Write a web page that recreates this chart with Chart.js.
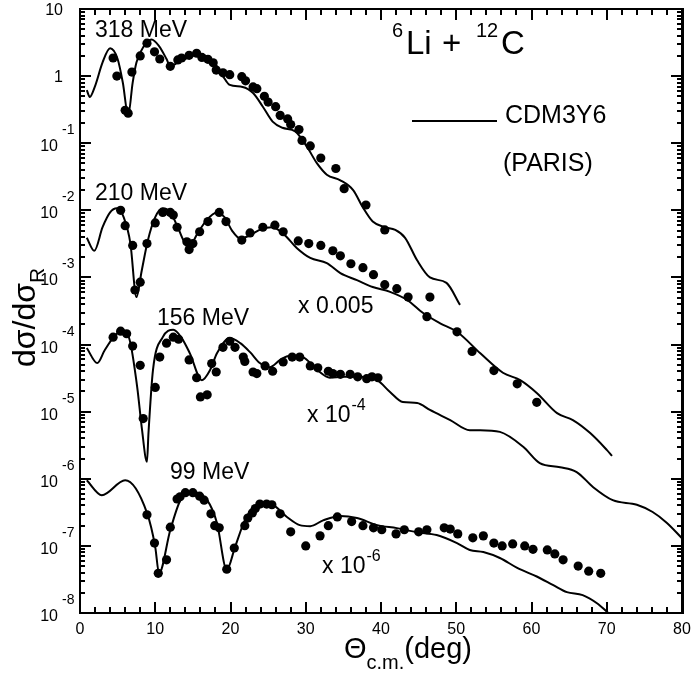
<!DOCTYPE html>
<html>
<head>
<meta charset="utf-8">
<script src="https://cdn.jsdelivr.net/npm/chart.js@4.4.0/dist/chart.umd.min.js"></script>
<style>
  html, body { margin: 0; padding: 0; background: #fff; }
</style>
</head>
<body>
<canvas id="xsec" width="694" height="679"></canvas>
<script>
// 6Li + 12C elastic scattering, ratio to Rutherford vs c.m. angle (deg)
// folding-model curves (CDM3Y6 / Paris) and measured points, one set per energy

// 318 MeV
const calcAng318 = [0.9, 1.3, 2.0, 3.0, 4.0, 5.0, 5.7, 6.4, 7.0, 7.5, 8.5, 9.5, 10.5, 11.5, 12.0, 13, 14, 15, 16, 17, 18, 19, 19.9, 21.6, 23.0, 24.3, 25.6, 26.9, 28.6, 30.2, 31.5, 32.8, 34.6, 36.3, 37.6, 38.9, 40.5, 41.9, 43.2, 44.8, 46.5, 48.7, 50.5];
const calc318 = [0.62, 0.49, 0.71, 1.6, 2.6, 1.8, 0.79, 0.26, 0.8, 1.6, 2.8, 3.5, 2.8, 1.8, 1.4, 1.6, 1.8, 2.0, 2.1, 1.9, 1.5, 1.0, 0.74, 0.69, 0.56, 0.35, 0.21, 0.17, 0.15, 0.087, 0.050, 0.034, 0.028, 0.020, 0.011, 0.0068, 0.0056, 0.0051, 0.0039, 0.0018, 0.0010, 0.00083, 0.00039];
const dataAng318 = [4.4, 4.9, 6.0, 6.4, 6.9, 8.0, 8.9, 9.9, 10.6, 12.0, 13.0, 13.5, 14.5, 15.5, 16.2, 17.0, 17.7, 18.1, 19.0, 19.9, 21.5, 22.0, 23.0, 23.5, 24.5, 25.0, 26.0, 26.6, 27.6, 28.0, 29.1, 29.5, 30.6, 32.0, 34.0, 35.1, 38.0, 40.5, 46.5];
const data318 = [1.86, 1.0, 0.31, 0.28, 1.15, 2.0, 3.1, 2.3, 1.8, 1.4, 1.74, 1.86, 2.04, 2.19, 1.9, 1.78, 1.58, 1.23, 1.12, 1.05, 0.98, 0.85, 0.69, 0.65, 0.50, 0.41, 0.35, 0.26, 0.23, 0.19, 0.16, 0.11, 0.091, 0.060, 0.042, 0.021, 0.012, 0.0051, 0.00051];

// 210 MeV (x 0.005)
const calcAng210 = [0.9, 1.9, 3.0, 4.0, 4.9, 5.8, 6.7, 7.5, 8.2, 9.0, 10.0, 11.0, 12.0, 13.0, 13.8, 14.6, 15.6, 16.8, 18.2, 19.2, 20.2, 21.3, 22.5, 24.0, 25.5, 27.0, 28.8, 30.6, 32.8, 34.6, 36.8, 38.9, 41.2, 43.5, 45.6, 47.8, 50.1, 53.2, 56.2, 58.5, 60.7, 63.4, 65.5, 67.8, 70.0, 70.7];
const calc210 = [0.0039, 0.0025, 0.0056, 0.0093, 0.0107, 0.0079, 0.0032, 0.00051, 0.00126, 0.0035, 0.0079, 0.0107, 0.0093, 0.0056, 0.0035, 0.0030, 0.0045, 0.0071, 0.0093, 0.0079, 0.0050, 0.0038, 0.0042, 0.0052, 0.0056, 0.0045, 0.00275, 0.00195, 0.00164, 0.00116, 0.00091, 0.00072, 0.00061, 0.00046, 0.000295, 0.000209, 0.000155, 7.4e-5, 3.8e-5, 2.95e-5, 1.9e-5, 9.5e-6, 7.5e-6, 4.8e-6, 2.7e-6, 2.2e-6];
const dataAng210 = [5.4, 6.0, 7.0, 7.3, 8.0, 8.9, 10.0, 11.0, 12.0, 12.4, 12.9, 14.2, 14.5, 15.0, 15.9, 17.0, 18.5, 19.4, 21.5, 22.6, 24.3, 25.9, 27.0, 29.0, 30.4, 32.0, 33.6, 34.6, 36.0, 37.6, 39.0, 40.5, 42.1, 43.6, 46.1, 50.1, 52.1, 55.0, 58.1, 60.7];
const data210 = [0.0100, 0.0059, 0.0030, 0.00065, 0.00085, 0.0032, 0.0065, 0.0093, 0.0093, 0.0085, 0.0056, 0.0034, 0.0026, 0.0032, 0.0048, 0.0068, 0.0093, 0.0068, 0.0036, 0.0046, 0.0056, 0.0060, 0.0048, 0.0035, 0.0032, 0.0030, 0.0025, 0.0021, 0.0016, 0.0014, 0.0011, 0.00078, 0.00068, 0.00051, 0.00026, 0.000155, 7.9e-5, 4.1e-5, 2.6e-5, 1.38e-5];

// 156 MeV (x 1e-4)
const calcAng156 = [0.9, 2.3, 3.3, 5.3, 6.4, 7.6, 8.2, 8.9, 9.1, 9.7, 11.0, 12.4, 13.5, 14.6, 16.2, 17.3, 18.2, 19.9, 21.3, 22.6, 23.9, 25.2, 26.6, 27.9, 29.6, 31.5, 33.2, 35.0, 37.2, 39.5, 41.2, 42.9, 44.8, 46.5, 49.2, 51.8, 53.2, 55.8, 58.9, 61.1, 63.8, 66.0, 68.2, 70.8, 74.0, 76.1, 78.0, 80.0];
const calc156 = [8.9e-5, 5.3e-5, 8.3e-5, 1.53e-4, 1.35e-4, 2.33e-5, 5.9e-6, 1.8e-6, 4.8e-6, 4.2e-5, 1.29e-4, 1.66e-4, 1.26e-4, 7.4e-5, 2.95e-5, 4.2e-5, 7.4e-5, 1.25e-4, 1.05e-4, 7.7e-5, 5.3e-5, 4.6e-5, 5.9e-5, 6.8e-5, 6.5e-5, 4.2e-5, 3.2e-5, 3.3e-5, 3.3e-5, 2.95e-5, 1.96e-5, 1.39e-5, 1.35e-5, 1.06e-5, 7.5e-6, 5.3e-6, 5.3e-6, 5.0e-6, 3.0e-6, 1.71e-6, 1.49e-6, 1.26e-6, 7.5e-7, 4.8e-7, 4.1e-7, 3.2e-7, 2.2e-7, 1.3e-7];
const dataAng156 = [4.4, 5.4, 6.2, 7.0, 8.0, 8.4, 10.0, 10.6, 11.5, 12.4, 13.1, 14.5, 15.5, 16.0, 16.9, 17.5, 18.1, 19.0, 19.9, 20.6, 21.7, 21.9, 23.0, 23.5, 24.6, 25.6, 27.0, 28.2, 29.2, 30.6, 31.6, 33.0, 33.6, 34.6, 35.9, 36.9, 38.1, 38.8, 39.6];
const data156 = [1.29e-4, 1.58e-4, 1.45e-4, 9.5e-5, 4.9e-5, 7.9e-6, 2.3e-5, 6.5e-5, 1.05e-4, 1.29e-4, 1.2e-4, 5.9e-5, 3.2e-5, 1.66e-5, 1.78e-5, 5.2e-5, 3.9e-5, 9.1e-5, 1.12e-4, 9.1e-5, 6.5e-5, 5.6e-5, 3.9e-5, 3.7e-5, 4.8e-5, 4.0e-5, 5.5e-5, 6.5e-5, 6.5e-5, 4.8e-5, 4.5e-5, 4.0e-5, 3.7e-5, 3.6e-5, 3.6e-5, 3.3e-5, 3.1e-5, 3.3e-5, 3.2e-5];

// 99 MeV (x 1e-6)
const calcAng99 = [0.9, 2.9, 6.0, 8.9, 10.0, 10.5, 12.0, 13.5, 15.0, 16.9, 18.2, 19.5, 20.6, 21.9, 23.0, 24.3, 25.6, 27.5, 29.2, 30.6, 32.3, 34.6, 36.8, 39.5, 42.1, 44.8, 47.4, 50.1, 51.8, 53.6, 55.8, 58.1, 60.7, 62.9, 64.7, 66.8, 68.7, 70.2];
const calc99 = [9.5e-7, 5.7e-7, 9.5e-7, 3.1e-7, 9.6e-8, 3.9e-8, 1.72e-7, 5.2e-7, 6.3e-7, 4.8e-7, 2.2e-7, 4.4e-8, 9.6e-8, 2.4e-7, 3.7e-7, 4.3e-7, 4.1e-7, 2.7e-7, 2.04e-7, 1.97e-7, 2.4e-7, 2.8e-7, 2.6e-7, 2.04e-7, 1.84e-7, 1.6e-7, 1.45e-7, 1.1e-7, 8.7e-8, 8.1e-8, 6.6e-8, 4.7e-8, 3.5e-8, 2.6e-8, 2.05e-8, 1.85e-8, 1.4e-8, 1.0e-8];
const dataAng99 = [8.9, 9.9, 10.4, 11.5, 12.0, 12.9, 13.3, 14.0, 15.0, 15.9, 16.5, 17.4, 17.9, 18.5, 19.5, 20.5, 21.9, 22.3, 22.9, 23.3, 23.9, 24.8, 25.5, 26.6, 28.0, 30.0, 31.9, 33.0, 34.2, 36.1, 37.6, 39.0, 40.1, 42.0, 43.1, 45.0, 46.1, 48.4, 49.2, 50.2, 52.2, 53.6, 55.0, 56.1, 57.5, 59.1, 60.2, 62.1, 63.1, 64.2, 66.2, 67.6, 69.2];
const data99 = [2.9e-7, 1.1e-7, 3.9e-8, 6.2e-8, 1.9e-7, 5.0e-7, 5.4e-7, 6.2e-7, 6.2e-7, 5.5e-7, 4.8e-7, 3.0e-7, 2.0e-7, 1.86e-7, 4.5e-8, 9.3e-8, 2.0e-7, 2.6e-7, 3.1e-7, 3.6e-7, 4.2e-7, 4.2e-7, 4.1e-7, 3.0e-7, 1.62e-7, 1.0e-7, 1.41e-7, 2.0e-7, 2.7e-7, 2.3e-7, 2.0e-7, 1.86e-7, 1.74e-7, 1.51e-7, 1.74e-7, 1.62e-7, 1.74e-7, 1.86e-7, 1.78e-7, 1.51e-7, 1.32e-7, 1.41e-7, 1.1e-7, 1.0e-7, 1.07e-7, 1.0e-7, 8.9e-8, 8.7e-8, 7.6e-8, 6.2e-8, 5.0e-8, 4.2e-8, 3.9e-8];

// axis ticks
const xTickLabels = [0, 10, 20, 30, 40, 50, 60, 70, 80];
const yTickExps = [1, 0, -1, -2, -3, -4, -5, -6, -7, -8];

const FONT = '"Liberation Sans", Arial, Helvetica, sans-serif';

function pts(xs, ys) {
  return xs.map((x, i) => ({ x: x, y: ys[i] }));
}

function curve(xs, ys) {
  return {
    data: pts(xs, ys),
    showLine: true,
    borderColor: '#000',
    borderWidth: 2,
    pointRadius: 0,
    fill: false,
    cubicInterpolationMode: 'monotone',
    order: 2
  };
}

function dots(xs, ys) {
  return {
    data: pts(xs, ys),
    showLine: false,
    pointRadius: 4.6,
    pointBackgroundColor: '#000',
    pointBorderWidth: 0,
    order: 1
  };
}

// text with a raised exponent, e.g. 10^-4
function supText(ctx, base, sup, x, y, size, supSize, rise) {
  ctx.font = size + 'px ' + FONT;
  ctx.textAlign = 'left';
  ctx.fillText(base, x, y);
  const w = ctx.measureText(base).width;
  ctx.font = supSize + 'px ' + FONT;
  ctx.fillText(sup, x + w + 1, y - rise);
}

const framePlugin = {
  id: 'framePlugin',
  afterDraw(chart) {
    const ctx = chart.ctx;
    const a = chart.chartArea;
    const xs = chart.scales.x, ys = chart.scales.y;
    ctx.save();
    ctx.fillStyle = '#000';
    ctx.strokeStyle = '#000';

    // ticks on all four sides, pointing inwards (filled rects, 2px thick)
    for (let v = 0; v <= 80; v += 2) {
      const px = Math.round(xs.getPixelForValue(v));
      const len = v % 10 === 0 ? 11 : 6;
      ctx.fillRect(px - 1, a.bottom - len, 2, len);
      ctx.fillRect(px - 1, a.top, 2, len);
    }
    for (let e = -8; e <= 1; e++) {
      for (let m = 1; m <= 9; m++) {
        const v = m * Math.pow(10, e);
        if (v > 10.0001) break;
        const py = Math.round(ys.getPixelForValue(v));
        const len = m === 1 ? 11 : 5;
        ctx.fillRect(a.left, py - 1, len, 2);
        ctx.fillRect(a.right - len, py - 1, len, 2);
      }
    }

    // frame
    ctx.lineWidth = 2;
    ctx.strokeRect(a.left, a.top, a.right - a.left, a.bottom - a.top);
    ctx.fillRect(a.right - 1, a.top - 1, 3, a.bottom - a.top + 2);

    // x tick labels
    ctx.font = '16px ' + FONT;
    ctx.textAlign = 'center';
    ctx.textBaseline = 'alphabetic';
    xTickLabels.forEach(v => {
      ctx.fillText(String(v), xs.getPixelForValue(v), a.bottom + 21);
    });

    // y tick labels, 10 with raised exponent
    yTickExps.forEach(e => {
      const py = ys.getPixelForValue(Math.pow(10, e));
      ctx.font = '16px ' + FONT;
      ctx.textAlign = 'right';
      if (e === 1) {
        ctx.fillText('10', a.left - 17, py + 6);
      } else if (e === 0) {
        ctx.fillText('1', a.left - 17, py + 6);
      } else {
        ctx.fillText('10', a.left - 22, py + 8);
        ctx.font = '14px ' + FONT;
        ctx.textAlign = 'left';
        ctx.fillText(String(e), a.left - 18, py - 9);
      }
    });

    // axis titles
    ctx.textAlign = 'left';
    ctx.font = '29px ' + FONT;
    ctx.fillText('\u0398', 344, 658);
    let w = ctx.measureText('\u0398').width;
    ctx.font = '20px ' + FONT;
    ctx.fillText('c.m.', 344 + w, 669);
    w += ctx.measureText('c.m.').width;
    ctx.font = '29px ' + FONT;
    ctx.fillText('(deg)', 344 + w, 658);

    ctx.save();
    ctx.translate(35, 367);
    ctx.rotate(-Math.PI / 2);
    ctx.font = '32px ' + FONT;
    ctx.fillText('d\u03c3/d\u03c3', 0, 0);
    const tw = ctx.measureText('d\u03c3/d\u03c3').width;
    ctx.font = '21px ' + FONT;
    ctx.fillText('R', tw, 9);
    ctx.restore();

    // energy labels and scale factors
    ctx.font = '23px ' + FONT;
    ctx.fillText('318 MeV', 95, 37);
    ctx.fillText('210 MeV', 95, 200);
    ctx.fillText('156 MeV', 157, 325);
    ctx.fillText('99 MeV', 170, 479);
    ctx.fillText('x 0.005', 298, 313);
    supText(ctx, 'x 10', '-4', 307, 422, 23, 16, 12);
    supText(ctx, 'x 10', '-6', 322, 573, 23, 16, 12);

    // reaction
    ctx.font = '20px ' + FONT;
    ctx.fillText('6', 392, 37);
    ctx.font = '33px ' + FONT;
    ctx.fillText('Li', 406, 54);
    ctx.fillText('+', 442, 54);
    ctx.font = '20px ' + FONT;
    ctx.fillText('12', 476, 37);
    ctx.font = '33px ' + FONT;
    ctx.fillText('C', 501, 54);

    // legend
    ctx.fillRect(412, 120, 85, 2);
    ctx.font = '25px ' + FONT;
    ctx.fillText('CDM3Y6', 505, 123);
    ctx.fillText('(PARIS)', 503, 171);

    ctx.restore();
  }
};

new Chart(document.getElementById('xsec'), {
  type: 'scatter',
  data: {
    datasets: [
      curve(calcAng318, calc318), dots(dataAng318, data318),
      curve(calcAng210, calc210), dots(dataAng210, data210),
      curve(calcAng156, calc156), dots(dataAng156, data156),
      curve(calcAng99, calc99), dots(dataAng99, data99)
    ]
  },
  options: {
    responsive: false,
    animation: false,
    devicePixelRatio: 1,
    events: [],
    layout: { padding: { left: 80, right: 12, top: 9, bottom: 66 } },
    plugins: { legend: { display: false }, tooltip: { enabled: false } },
    scales: {
      x: { type: 'linear', min: 0, max: 80, display: false },
      y: { type: 'logarithmic', min: 1e-8, max: 10, display: false }
    }
  },
  plugins: [framePlugin]
});
</script>
</body>
</html>
